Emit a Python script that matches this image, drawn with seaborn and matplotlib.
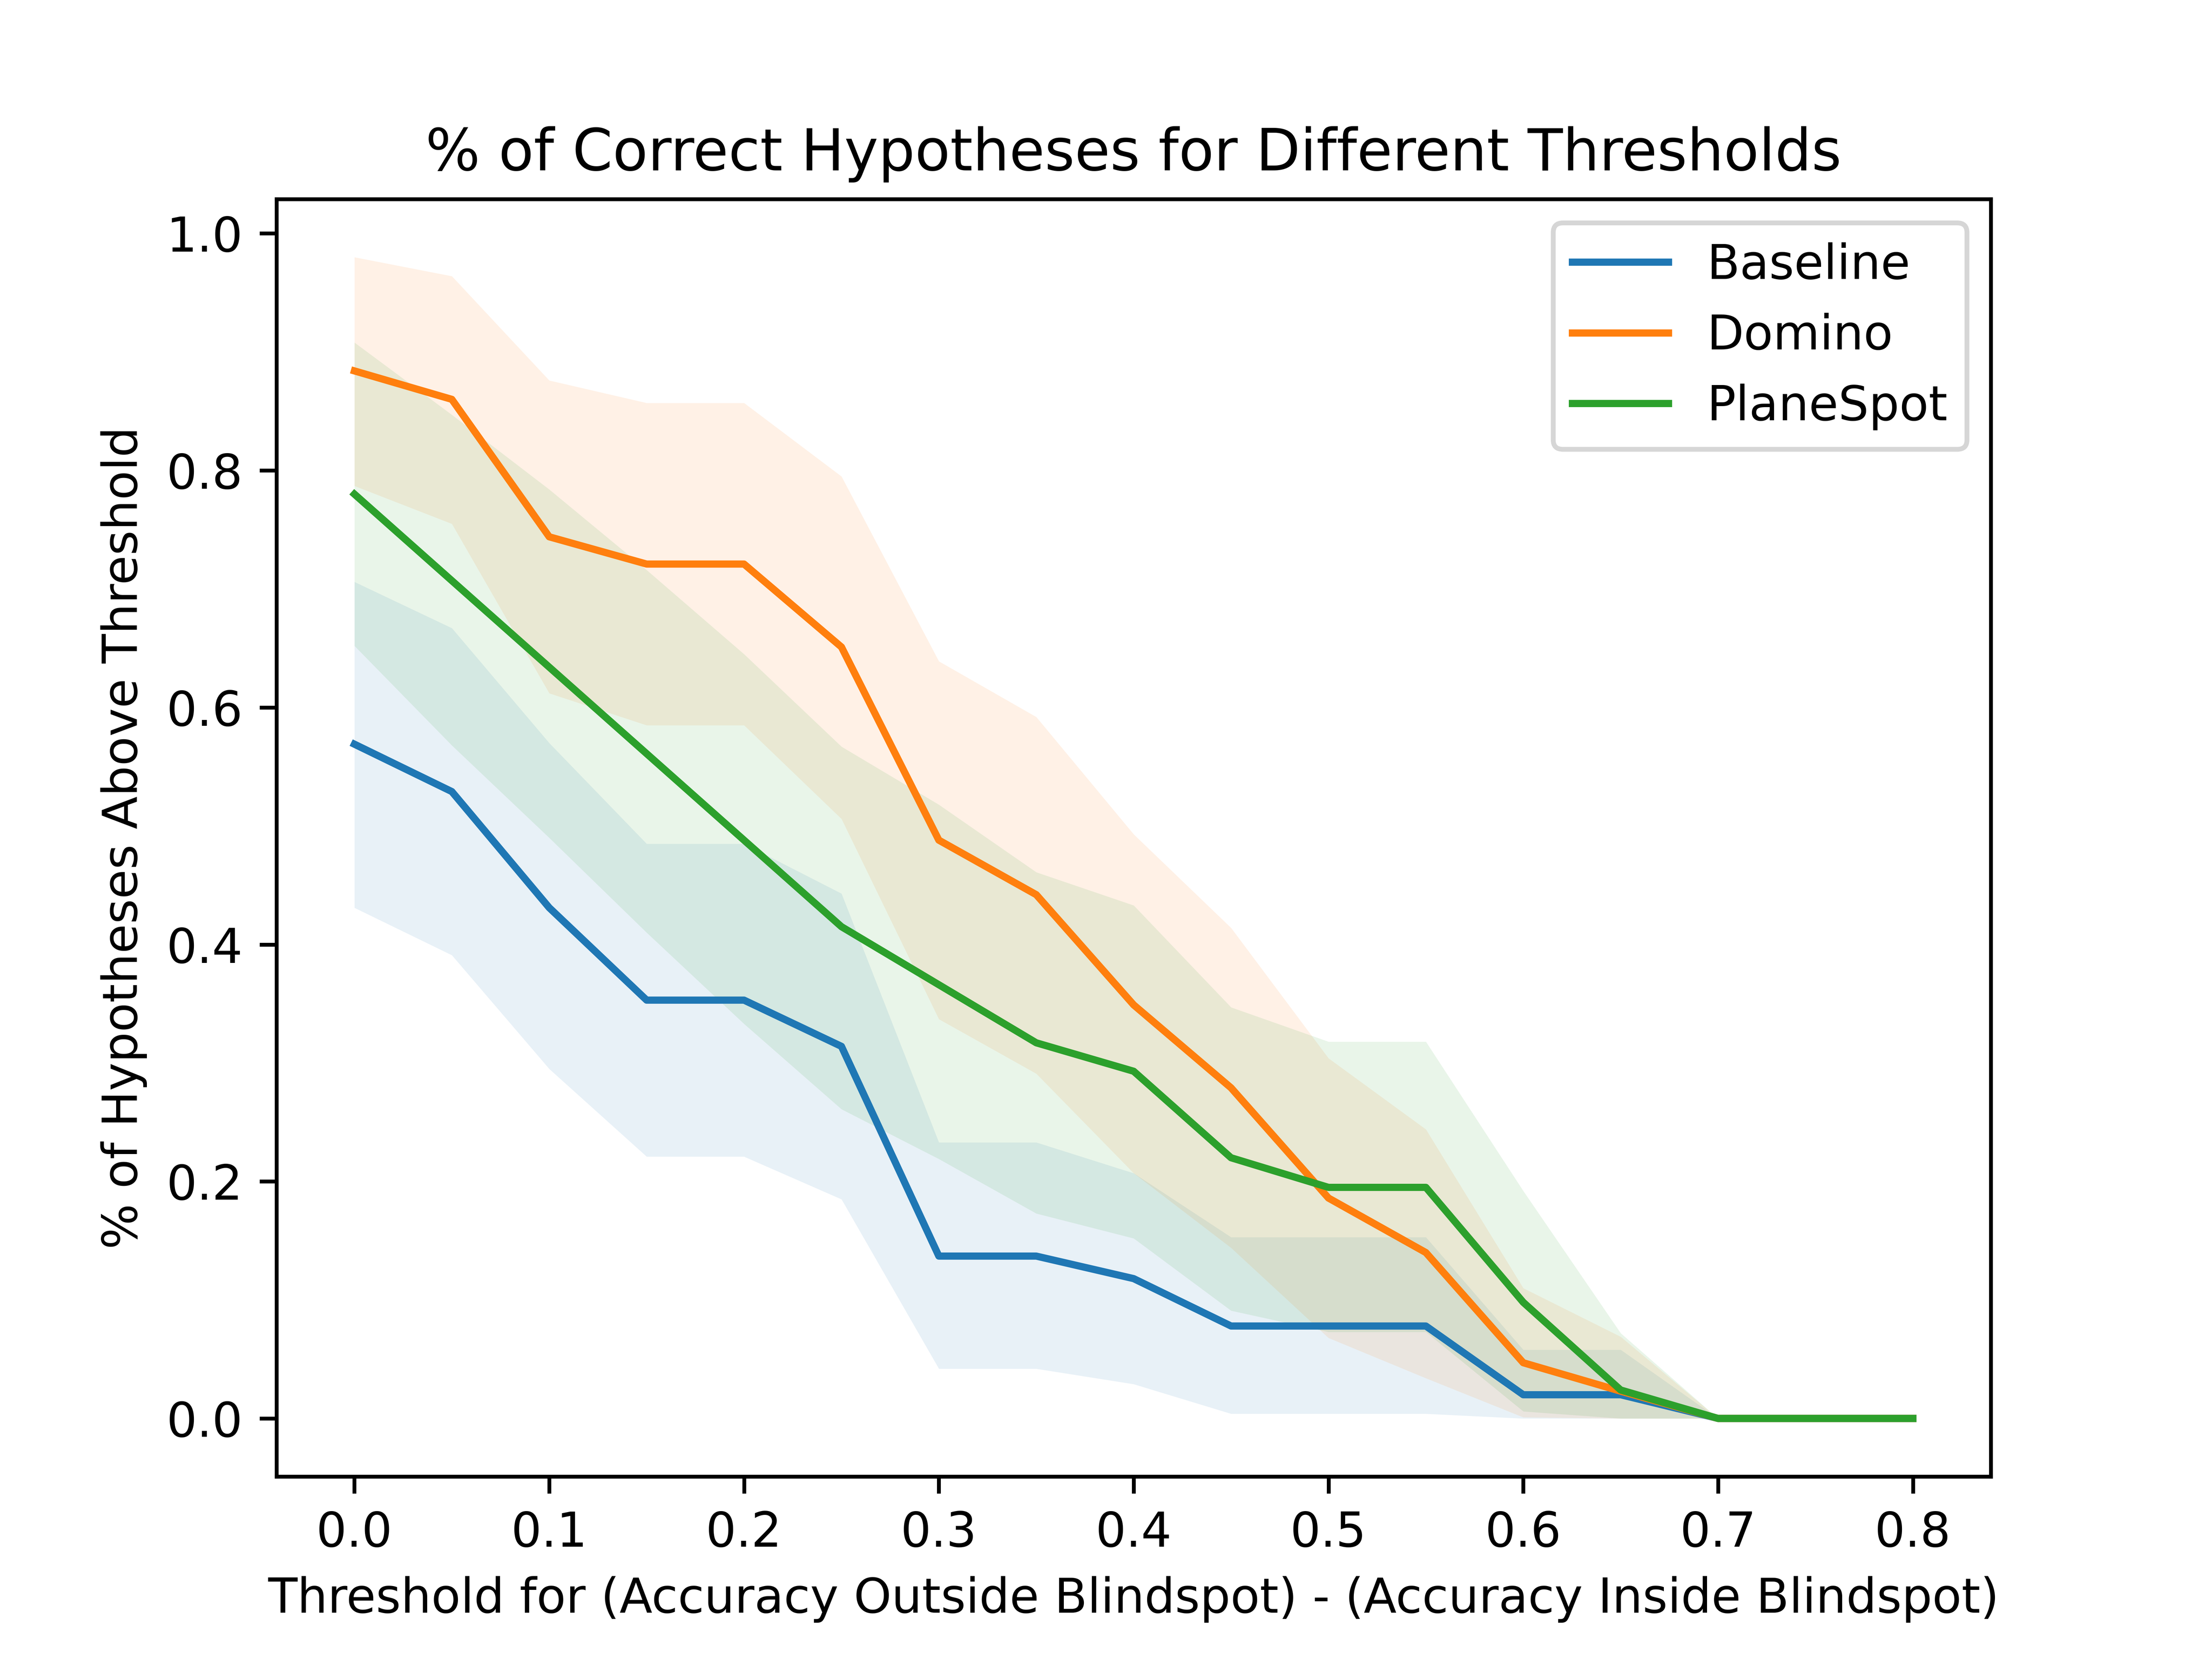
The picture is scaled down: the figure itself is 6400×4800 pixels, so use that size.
import numpy as np
import pandas as pd
import matplotlib
matplotlib.use('Agg')
import matplotlib.pyplot as plt
import seaborn as sns

# thresholds 0.00 .. 0.80 in 0.05 steps
thresholds = [0.0, 0.05, 0.1, 0.15, 0.2, 0.25, 0.3, 0.35, 0.4,
              0.45, 0.5, 0.55, 0.6, 0.65, 0.7, 0.75, 0.8]

methods = ['Baseline', 'Domino', 'PlaneSpot']

baseline_mean = [0.569, 0.529, 0.431, 0.353, 0.353, 0.314, 0.137, 0.137, 0.118,
                 0.078, 0.078, 0.078, 0.020, 0.020, 0.0, 0.0, 0.0]
baseline_low = [0.431, 0.391, 0.295, 0.221, 0.221, 0.185, 0.042, 0.042, 0.029,
                0.004, 0.004, 0.004, 0.0, 0.0, 0.0, 0.0, 0.0]
baseline_high = [0.706, 0.667, 0.570, 0.485, 0.485, 0.443, 0.233, 0.233, 0.207,
                 0.153, 0.153, 0.153, 0.058, 0.058, 0.0, 0.0, 0.0]

domino_mean = [0.884, 0.860, 0.744, 0.721, 0.721, 0.651, 0.488, 0.442, 0.349,
               0.279, 0.186, 0.140, 0.047, 0.023, 0.0, 0.0, 0.0]
domino_low = [0.787, 0.755, 0.612, 0.585, 0.585, 0.506, 0.337, 0.291, 0.207,
              0.144, 0.068, 0.034, 0.001, 0.0, 0.0, 0.0, 0.0]
domino_high = [0.980, 0.964, 0.876, 0.857, 0.857, 0.795, 0.639, 0.592, 0.493,
               0.414, 0.304, 0.244, 0.110, 0.069, 0.0, 0.0, 0.0]

planespot_mean = [0.780, 0.707, 0.634, 0.561, 0.488, 0.415, 0.366, 0.317, 0.293,
                  0.220, 0.195, 0.195, 0.098, 0.024, 0.0, 0.0, 0.0]
planespot_low = [0.652, 0.568, 0.490, 0.410, 0.333, 0.261, 0.219, 0.173, 0.152,
                 0.091, 0.073, 0.073, 0.006, 0.0, 0.0, 0.0, 0.0]
planespot_high = [0.908, 0.847, 0.784, 0.716, 0.645, 0.567, 0.518, 0.461, 0.433,
                  0.347, 0.318, 0.318, 0.192, 0.072, 0.0, 0.0, 0.0]

means = [baseline_mean, domino_mean, planespot_mean]
lows = [baseline_low, domino_low, planespot_low]
highs = [baseline_high, domino_high, planespot_high]
colors = ['tab:blue', 'tab:orange', 'tab:green']

fig, ax = plt.subplots(figsize=(6.4, 4.8), dpi=1000)

for name, m, lo, hi, c in zip(methods, means, lows, highs, colors):
    df = pd.DataFrame({'threshold': thresholds, 'pct': m})
    sns.lineplot(data=df, x='threshold', y='pct', color=c, label=name, ax=ax, linewidth=1.5)
    ax.fill_between(thresholds, lo, hi, color=c, alpha=0.1, linewidth=0)

ax.set_title('% of Correct Hypotheses for Different Thresholds', fontsize=12)
ax.set_xlabel('Threshold for (Accuracy Outside Blindspot) - (Accuracy Inside Blindspot)')
ax.set_ylabel('% of Hypotheses Above Threshold')
ax.legend(loc='upper right')

plt.savefig('out.png', dpi=1000)
